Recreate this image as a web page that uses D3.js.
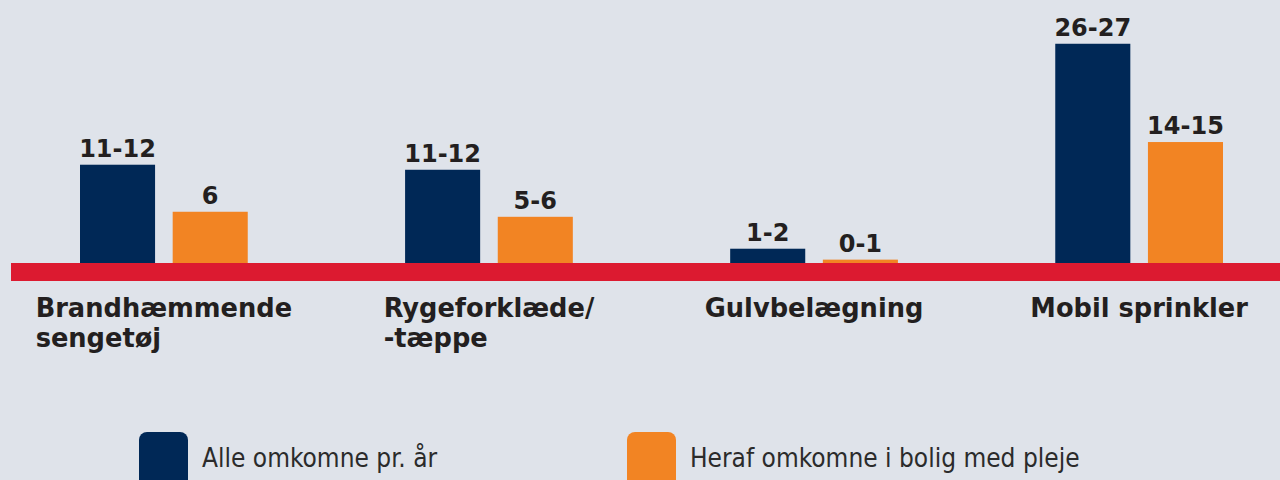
<!DOCTYPE html>
<html>
<head>
<meta charset="utf-8">
<script src="https://cdn.jsdelivr.net/npm/d3@7"></script>
<style>
  html, body { margin: 0; padding: 0; background: #dfe3ea; }
  svg { display: block; }
  .value { font-family: "DejaVu Sans", Verdana, sans-serif; font-weight: bold; font-size: 24px; fill: #231f20; }
  .cat { font-family: "DejaVu Sans", Verdana, sans-serif; font-weight: bold; font-size: 25.7px; fill: #231f20; }
  .legend-label { font-family: "DejaVu Sans Condensed", "DejaVu Sans", sans-serif; font-stretch: condensed; font-size: 26px; fill: #2b2b2b; }
</style>
</head>
<body>
<svg id="chart" width="1280" height="480"></svg>
<script>
// SETUP
const W = 1280, H = 480;
const baseY = 263;      // top of the red base band
const bandH = 18;

// DATA
const categories = ["Brandhæmmende sengetøj", "Rygeforklæde/ -tæppe", "Gulvbelægning", "Mobil sprinkler"];
const categoryLines = [["Brandhæmmende", "sengetøj"], ["Rygeforklæde/", "-tæppe"], ["Gulvbelægning"], ["Mobil sprinkler"]];
const seriesNames = ["Alle omkomne pr. år", "Heraf omkomne i bolig med pleje"];
const allValues = [11.7, 11.1, 1.7, 26.1];
const plejeValues = [6.1, 5.5, 0.4, 14.4];
const allLabels = ["11-12", "11-12", "1-2", "26-27"];
const plejeLabels = ["6", "5-6", "0-1", "14-15"];
const colors = ["#002856", "#f28423"];

const rows = categories.map((c, i) => ({
  cat: c,
  lines: categoryLines[i],
  bars: [
    { key: seriesNames[0], value: allValues[i], label: allLabels[i] },
    { key: seriesNames[1], value: plejeValues[i], label: plejeLabels[i] }
  ]
}));

const svg = d3.select("#chart");

// SCALES
// outer band: one per category, inner band: the two bars
const x0 = d3.scaleBand()
  .domain(categories)
  .range([80, 1223])
  .paddingInner(0.484);

const x1 = d3.scaleBand()
  .domain(seriesNames)
  .range([0, x0.bandwidth()])
  .paddingInner(0.19);

const y = d3.scaleLinear()
  .domain([0, 30])
  .range([baseY, baseY - 252]);

const color = d3.scaleOrdinal().domain(seriesNames).range(colors);

// BARS
const groups = svg.selectAll(".group")
  .data(rows)
  .enter()
  .append("g")
  .attr("class", "group")
  .attr("transform", d => `translate(${x0(d.cat)},0)`);

groups.selectAll("rect")
  .data(d => d.bars)
  .enter()
  .append("rect")
  .attr("x", d => x1(d.key))
  .attr("y", d => y(d.value))
  .attr("width", x1.bandwidth())
  .attr("height", d => y(0) - y(d.value))
  .attr("fill", d => color(d.key));

// value labels over bars
groups.selectAll(".value")
  .data(d => d.bars)
  .enter()
  .append("text")
  .attr("class", "value")
  .attr("x", d => x1(d.key) + x1.bandwidth() / 2)
  .attr("y", d => y(d.value) - 8)
  .attr("text-anchor", "middle")
  .text(d => d.label);

// red base band
svg.append("rect")
  .attr("x", 11)
  .attr("y", y(0))
  .attr("width", W - 11)
  .attr("height", bandH)
  .attr("fill", "#dc1a30");

// CATEGORY LABELS
// block centred under group, lines left aligned
groups.each(function(d) {
  const g = d3.select(this);
  const t = g.append("text")
    .attr("class", "cat");
  t.selectAll("tspan")
    .data(d.lines)
    .enter()
    .append("tspan")
    .attr("dy", (l, i) => i === 0 ? 0 : 30)
    .text(l => l);
  // measure widest line
  let maxW = 0;
  t.selectAll("tspan").each(function() {
    maxW = Math.max(maxW, this.getComputedTextLength());
  });
  const left = x0.bandwidth() / 2 - maxW / 2;
  t.attr("y", 317);
  t.selectAll("tspan").attr("x", left);
});

// LEGEND
const legendX = [139, 627];
const legend = svg.selectAll(".legend")
  .data(seriesNames)
  .enter()
  .append("g")
  .attr("class", "legend")
  .attr("transform", (d, i) => `translate(${legendX[i]},432)`);

legend.append("rect")
  .attr("width", 49)
  .attr("height", 60)
  .attr("rx", 8)
  .attr("fill", d => color(d));

legend.append("text")
  .attr("class", "legend-label")
  .attr("x", 63)
  .attr("y", 35)
  .text(d => d);
</script>
</body>
</html>
